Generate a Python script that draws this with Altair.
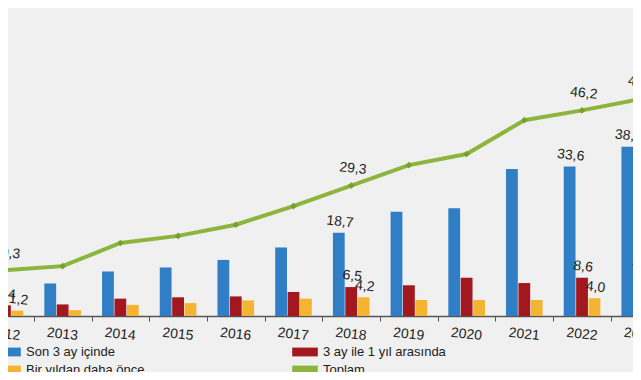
import altair as alt
import pandas as pd

# ---- data ----
years = [2012, 2013, 2014, 2015, 2016, 2017, 2018, 2019, 2020, 2021, 2022, 2023]
son_3_ay = [6.7, 7.3, 10.0, 10.9, 12.6, 15.4, 18.7, 23.4, 24.2, 33.0, 33.6, 38.0]
ay3_1yil = [2.4, 2.6, 3.9, 4.2, 4.4, 5.4, 6.5, 6.9, 8.6, 7.4, 8.6, 7.8]
bir_yildan_once = [1.2, 1.3, 2.5, 2.9, 3.5, 3.9, 4.2, 3.6, 3.6, 3.6, 4.0, 2.9]
toplam = [10.3, 11.2, 16.4, 18.0, 20.5, 24.7, 29.3, 33.9, 36.4, 44.0, 46.2, 48.7]
labeled_years = [2012, 2018, 2022, 2023]

bar_series = ["Son 3 ay içinde", "3 ay ile 1 yıl arasında", "Bir yıldan daha önce"]
line_series = "Toplam"
# legend order (laid out column by column): Son 3 ay / Bir yıldan | 3 ay ile 1 yıl / Toplam
legend_order = ["Son 3 ay içinde", "Bir yıldan daha önce", "3 ay ile 1 yıl arasında", "Toplam"]
legend_colors = ["#2f7ec6", "#f2b431", "#a3171f", "#8db43c"]

bar_rows = []
for name, vals in zip(bar_series, [son_3_ay, ay3_1yil, bir_yildan_once]):
    for y, v in zip(years, vals):
        bar_rows.append({"year": y, "series": name, "value": v})
bars_df = pd.DataFrame(bar_rows)
line_df = pd.DataFrame({"year": years, "series": line_series, "value": toplam})

FONT = "Liberation Sans Narrow, Arial Narrow, Liberation Sans, sans-serif"

x_scale = alt.Scale(range=[-31.9, 660.6], paddingInner=0, paddingOuter=0)
y_scale = alt.Scale(domain=[0, 69.2], nice=False)
color_scale = alt.Scale(domain=legend_order, range=legend_colors)

x_enc = alt.X(
    "year:O",
    scale=x_scale,
    axis=alt.Axis(
        title=None, labelAngle=6, labelAlign="center", labelBaseline="top",
        labelFont=FONT, labelFontSize=14, labelColor="#222222", labelPadding=6,
        domainColor="#555555", domainWidth=1.5, tickColor="#555555", tickSize=5,
        tickBand="extent", grid=False,
    ),
)
y_enc = alt.Y("value:Q", scale=y_scale, axis=None)
xoff = alt.XOffset("series:N", sort=bar_series,
                   scale=alt.Scale(domain=bar_series, paddingInner=0.05, paddingOuter=0.85))

legend = alt.Legend(
    title=None, orient="none", legendX=-8, legendY=336, padding=0, columns=2, columnPadding=147,
    rowPadding=3, symbolType="M-1.6,-0.55H1.6V0.55H-1.6Z", symbolSize=256, symbolStrokeWidth=0,
    labelFont=FONT, labelFontSize=13, labelColor="#222222", labelOffset=10,
)

label_expr = "replace(format(datum.value, '.1f'), '.', ',')"

bars = alt.Chart(bars_df).mark_bar(clip=True).encode(
    x=x_enc, xOffset=xoff, y=y_enc,
    color=alt.Color("series:N", scale=color_scale, legend=legend),
)

bar_labels = alt.Chart(bars_df).transform_filter(
    alt.FieldOneOfPredicate(field="year", oneOf=labeled_years)
).transform_calculate(label=label_expr).mark_text(
    baseline="bottom", dy=-4, angle=6, font=FONT, fontSize=14, color="#1e1e1e"
).encode(x=x_enc, xOffset=xoff, y=y_enc, text="label:N")

line = alt.Chart(line_df).mark_line(strokeWidth=4).encode(
    x=x_enc, y=y_enc, color=alt.Color("series:N", scale=color_scale, legend=legend)
)
points = alt.Chart(line_df).mark_point(shape="diamond", filled=True, size=45,
                                       color="#76a12c", opacity=1).encode(x=x_enc, y=y_enc)
line_labels = alt.Chart(line_df).transform_filter(
    alt.FieldOneOfPredicate(field="year", oneOf=labeled_years)
).transform_calculate(label=label_expr).mark_text(
    baseline="bottom", dy=-10, angle=6, font=FONT, fontSize=14, color="#1e1e1e"
).encode(x=x_enc, y=y_enc, text="label:N")

chart = alt.layer(bars, line, points, bar_labels, line_labels).properties(
    width=625, height=308,
    padding={"left": 0, "top": 0, "right": 0, "bottom": 56},
    autosize=alt.AutoSizeParams(type="none"),
    background="#f0f0f0",
).configure_view(stroke=None)

chart.save("out.html", embed_options={"renderer": "svg", "actions": False})
